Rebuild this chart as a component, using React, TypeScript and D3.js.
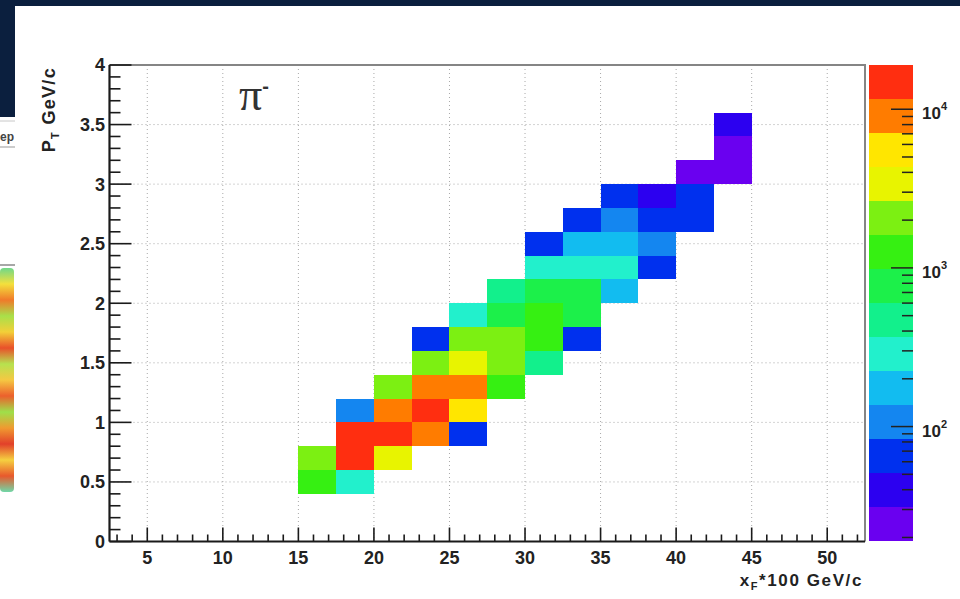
import React, { useEffect, useRef } from "react";
import * as d3 from "d3";

const W = 960;
const H = 599;

// lower edge of each pT row (GeV/c), rows are 0.2 high
const ptRows = [0.4, 0.6, 0.8, 1.0, 1.2, 1.4, 1.6, 1.8, 2.0, 2.2, 2.4, 2.6, 2.8, 3.0, 3.2, 3.4];
// lower edge of the first filled xF*100 bin in each row, bins are 2.5 wide
const xfFirst = [15, 15, 17.5, 17.5, 20, 22.5, 22.5, 25, 27.5, 30, 30, 32.5, 35, 40, 42.5, 42.5];
// entries in each row, left to right
const rowCounts = [
  [1250, 290],
  [2100, 16000, 3400],
  [14000, 17500, 9000, 65],
  [105, 8200, 13500, 5400],
  [2000, 9300, 8800, 1300],
  [2200, 3300, 1900, 480],
  [62, 2000, 2300, 1200, 68],
  [280, 780, 1150, 740],
  [460, 800, 720, 170],
  [300, 270, 290, 64],
  [70, 180, 215, 110],
  [66, 104, 60, 63],
  [67, 41, 55],
  [24, 22],
  [25],
  [38],
];

const xMajor = [5, 10, 15, 20, 25, 30, 35, 40, 45, 50];
const yMajor = [0, 0.5, 1, 1.5, 2, 2.5, 3, 3.5, 4];
const zRange = [19, 19000];
// 14 contour colours, low -> high
const palette = [
  "#6a00f0", "#2c00f0", "#0030ee", "#1486f0", "#12bcf0", "#22f0cc", "#12f08c",
  "#1cf04a", "#36f012", "#7cf012", "#e8f400", "#ffe600", "#ff7c00", "#ff2e10",
];

const XW = 2.5;
const YH = 0.2;

export default function App() {
  const ref = useRef<SVGSVGElement>(null);

  useEffect(() => {
    const svg = d3.select(ref.current);
    svg.selectAll("*").remove();
    const font = "'Liberation Sans', Arial, sans-serif";

    // --- bits of the slide around the plot
    svg.append("rect").attr("width", W).attr("height", H).attr("fill", "#fff");
    svg.append("rect").attr("width", W).attr("height", 6).attr("fill", "#0b1f3e");
    svg.append("rect").attr("width", 15).attr("height", 117).attr("fill", "#0b1f3e");
    svg.append("line").attr("x1", 0).attr("x2", 15).attr("y1", 121).attr("y2", 121).attr("stroke", "#c8c8c8");
    svg.append("text").attr("x", 0).attr("y", 141).attr("font-family", font).attr("font-weight", "bold")
      .attr("font-size", 12).attr("fill", "#444").text("ep");
    svg.append("line").attr("x1", 0).attr("x2", 15).attr("y1", 147).attr("y2", 147).attr("stroke", "#999");
    svg.append("line").attr("x1", 0).attr("x2", 15).attr("y1", 265).attr("y2", 265).attr("stroke", "#8a8a8a").attr("stroke-width", 1.5);
    const grad = svg.append("defs").append("linearGradient").attr("id", "blob")
      .attr("x1", 0).attr("x2", 0).attr("y1", 0).attr("y2", 1);
    const blob = ["#6fd88a", "#f4e03c", "#f07a2a", "#a8e04a", "#f3cf38", "#e9502a", "#b6e24f",
      "#f5c842", "#ec602c", "#9ee04a", "#f09a30", "#e2402a", "#f5d040", "#e8582c", "#6fd8a8"];
    blob.forEach((c, i) => grad.append("stop").attr("offset", i / (blob.length - 1)).attr("stop-color", c));
    svg.append("rect").attr("x", 0).attr("y", 268).attr("width", 14).attr("height", 224)
      .attr("rx", 4).attr("fill", "url(#blob)");

    // --- scales
    const m = { left: 109.5, right: 865, top: 65, bottom: 541.5 };
    const x = d3.scaleLinear().domain([2.5, 52.5]).range([m.left, m.right]);
    const y = d3.scaleLinear().domain([0, 4]).range([m.bottom, m.top]);
    const logDom = [Math.log10(zRange[0]), Math.log10(zRange[1])];
    const color = d3.scaleQuantize<string>().domain(logDom).range(palette);

    // --- grid
    const grid = svg.append("g").attr("stroke", "#a8a8a8").attr("stroke-dasharray", "1,3").attr("stroke-width", 1);
    grid.selectAll("line.gx").data(xMajor).join("line")
      .attr("x1", (d) => x(d)).attr("x2", (d) => x(d)).attr("y1", m.top).attr("y2", m.bottom);
    grid.selectAll("line.gy").data(yMajor.slice(1, -1)).join("line")
      .attr("x1", m.left).attr("x2", m.right).attr("y1", (d) => y(d)).attr("y2", (d) => y(d));

    // --- cells
    const cells = ptRows.flatMap((pt, r) =>
      rowCounts[r].map((n, k) => ({ xf: xfFirst[r] + k * XW, pt, n }))
    );
    svg.append("g").selectAll("rect").data(cells).join("rect")
      .attr("x", (d) => x(d.xf))
      .attr("y", (d) => y(d.pt + YH))
      .attr("width", (d) => x(d.xf + XW) - x(d.xf))
      .attr("height", (d) => y(d.pt) - y(d.pt + YH))
      .attr("fill", (d) => color(Math.log10(d.n)))
      .attr("shape-rendering", "crispEdges");

    // --- frame
    svg.append("path")
      .attr("d", `M${m.left},${m.top}H${m.right}V${m.bottom}`)
      .attr("fill", "none").attr("stroke", "#858585").attr("stroke-width", 2);

    const ax = svg.append("g").attr("stroke", "#1a1a1a");
    ax.append("line").attr("x1", m.left).attr("x2", m.right).attr("y1", m.bottom).attr("y2", m.bottom).attr("stroke-width", 2.2);
    ax.append("line").attr("x1", m.left).attr("x2", m.left).attr("y1", m.top).attr("y2", m.bottom).attr("stroke-width", 2.2);

    const xMinor = d3.range(3, 53, 1).filter((v) => v % 5 !== 0);
    ax.selectAll("line.xm").data(xMinor).join("line")
      .attr("x1", (d) => x(d)).attr("x2", (d) => x(d)).attr("y1", m.bottom).attr("y2", m.bottom - 7).attr("stroke-width", 1.6);
    ax.selectAll("line.xM").data(xMajor).join("line")
      .attr("x1", (d) => x(d)).attr("x2", (d) => x(d)).attr("y1", m.bottom).attr("y2", m.bottom - 14).attr("stroke-width", 1.6);

    const yMinor = d3.range(1, 40).map((v) => v / 10).filter((v) => Math.round(v * 10) % 5 !== 0);
    ax.selectAll("line.ym").data(yMinor).join("line")
      .attr("x1", m.left).attr("x2", m.left + 11).attr("y1", (d) => y(d)).attr("y2", (d) => y(d)).attr("stroke-width", 1.6);
    ax.selectAll("line.yM").data(yMajor).join("line")
      .attr("x1", m.left).attr("x2", m.left + 22).attr("y1", (d) => y(d)).attr("y2", (d) => y(d)).attr("stroke-width", 1.6);

    const lab = svg.append("g").attr("font-family", font).attr("font-weight", "bold").attr("font-size", 18).attr("fill", "#222");
    lab.selectAll("text.x").data(xMajor).join("text")
      .attr("x", (d) => x(d)).attr("y", 564).attr("text-anchor", "middle").text((d) => d);
    lab.selectAll("text.y").data(yMajor).join("text")
      .attr("x", 105).attr("y", (d) => y(d)).attr("dy", "0.36em").attr("text-anchor", "end").text((d) => d);

    // axis titles
    const xt = lab.append("text").attr("x", 863).attr("y", 586).attr("text-anchor", "end")
      .attr("font-size", 17).attr("letter-spacing", 1.6);
    xt.append("tspan").text("x");
    xt.append("tspan").attr("dy", 4).attr("font-size", 11).text("F");
    xt.append("tspan").attr("dy", -4).text("*100 GeV/c");

    const yt = lab.append("text").attr("transform", "translate(55,67) rotate(-90)").attr("text-anchor", "end")
      .attr("font-size", 18).attr("letter-spacing", 1.3);
    yt.append("tspan").text("P");
    yt.append("tspan").attr("dy", 4).attr("font-size", 11).text("T");
    yt.append("tspan").attr("dy", -4).text(" GeV/c");

    const pi = svg.append("text").attr("x", 239).attr("y", 110)
      .attr("font-family", "'Liberation Serif', 'DejaVu Serif', serif").attr("font-size", 46).attr("fill", "#333");
    pi.append("tspan").text("π");
    pi.append("tspan").attr("font-family", font).attr("font-weight", "bold").attr("font-size", 20)
      .attr("dy", -17).text("-");

    // --- colour bar
    const cb = { x0: 869, x1: 913, top: 65, bottom: 541 };
    const z = d3.scaleLog().domain(zRange).range([cb.bottom, cb.top]);
    const edges = [logDom[0], ...color.thresholds(), logDom[1]];
    svg.append("g").selectAll("rect").data(palette).join("rect")
      .attr("x", cb.x0).attr("width", cb.x1 - cb.x0)
      .attr("y", (_, i) => z(Math.pow(10, edges[i + 1])))
      .attr("height", (_, i) => z(Math.pow(10, edges[i])) - z(Math.pow(10, edges[i + 1])))
      .attr("fill", (d) => d).attr("shape-rendering", "crispEdges");

    const zt = z.ticks();
    const isDecade = (v: number) => Math.abs(Math.log10(v) - Math.round(Math.log10(v))) < 1e-6;
    svg.append("g").attr("stroke", "#222").attr("stroke-width", 1.5)
      .selectAll("line").data(zt).join("line")
      .attr("x1", cb.x1).attr("x2", (d) => cb.x1 - (isDecade(d) ? 22 : 11))
      .attr("y1", (d) => z(d)).attr("y2", (d) => z(d));

    const zl = svg.append("g").attr("font-family", font).attr("font-weight", "bold").attr("fill", "#222")
      .selectAll("text").data(zt.filter(isDecade)).join("text")
      .attr("x", 922).attr("y", (d) => z(d) + 10).attr("font-size", 17);
    zl.append("tspan").text("10");
    zl.append("tspan").attr("dy", -9).attr("font-size", 11).text((d) => Math.round(Math.log10(d)));
  }, []);

  return (
    <svg ref={ref} width={W} height={H}
      style={{ position: "absolute", left: 0, top: 0, display: "block" }} />
  );
}
